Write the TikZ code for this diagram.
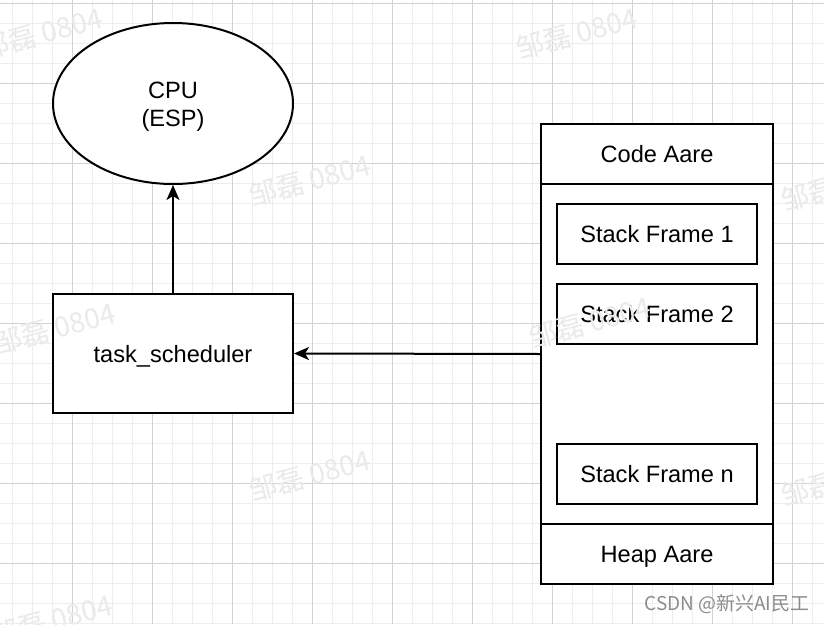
\documentclass[tikz,border=0pt]{standalone}
\usepackage{fontspec}
\setmainfont{Liberation Sans}
\newfontfamily\cjk{Noto Sans CJK SC}
\usetikzlibrary{arrows.meta,shapes.geometric}
\definecolor{gridminor}{HTML}{EEEEEE}
\definecolor{gridmajor}{HTML}{D2D2D2}
\definecolor{wmcol}{HTML}{EAEAEA}
\definecolor{csdn}{HTML}{8C8C8C}
\tikzset{
  boxst/.style={draw=black, line width=2pt, fill=white, inner sep=0pt, font=\fontsize{23.6}{28}\selectfont},
  plainbox/.style={boxst, rectangle, text height=17pt, text depth=0pt},
  ellst/.style={boxst, ellipse},
  lbl/.style={inner sep=0pt, font=\fontsize{23.6}{28}\selectfont, align=center},
  arr/.style={line width=2pt, -{Stealth[length=15pt,width=13pt,inset=4pt]}},
  wmark/.style={text=wmcol, font=\cjk\fontsize{28}{32}\selectfont, rotate=15, inner sep=0pt},
}
\begin{document}
\begin{tikzpicture}[x=1pt,y=-1pt]
\useasboundingbox (0,0) rectangle (824,624);
\fill[white] (0,0) rectangle (824,624);
% grid
\foreach \x in {12.7,32.7,...,822.7} \draw[gridminor, line width=1pt] (\x,0) -- (\x,624);
\foreach \y in {3.3,23.3,...,623.3} \draw[gridminor, line width=1pt] (0,\y) -- (824,\y);
\foreach \x in {72.7,152.7,...,822.7} \draw[gridmajor, line width=1pt] (\x,0) -- (\x,624);
\foreach \y in {3.3,83.3,...,623.3} \draw[gridmajor, line width=1pt] (0,\y) -- (824,\y);

% nodes
\node[ellst, minimum width=240pt, minimum height=161pt] (cpu) at (173,103.5) {};
\node[lbl] (cpulbl) at (173,106.5) {CPU\\(ESP)};
\node[plainbox, minimum width=240pt, minimum height=119pt] (ts) at (173,353.5) {task\_scheduler};

\node[plainbox, minimum width=232pt, minimum height=460pt] (mem) at (657,354) {};
\node[plainbox, minimum width=232pt, minimum height=60pt] (code) at (657,154) {Code Aare};
\node[plainbox, minimum width=232pt, minimum height=60pt] (heap) at (657,554) {Heap Aare};
\node[plainbox, minimum width=200pt, minimum height=60pt] (sf1) at (657,234) {Stack Frame 1};
\node[plainbox, minimum width=200pt, minimum height=60pt] (sf2) at (657,314) {Stack Frame 2};
\node[plainbox, minimum width=200pt, minimum height=60pt] (sfn) at (657,474) {Stack Frame n};

% connectors
\draw[arr] (ts.north) -- (cpu.south);
\draw[arr] (mem.west) -- (ts.east);

% watermarks
\node[wmark] (w1) at (42,33) {邹磊 0804};
\node[wmark] (w2) at (577,33) {邹磊 0804};
\node[wmark] (w3) at (310,180) {邹磊 0804};
\node[wmark] (w4) at (842,185) {邹磊 0804};
\node[wmark] (w5) at (55,328) {邹磊 0804};
\node[wmark] (w6) at (590,322) {邹磊 0804};
\node[wmark] (w7) at (310,475) {邹磊 0804};
\node[wmark] (w8) at (842,480) {邹磊 0804};
\node[wmark] (w9) at (52,620) {邹磊 0804};

\node[text=csdn, font=\cjk\fontsize{19}{22}\selectfont, inner sep=0pt] (csdnlbl) at (727,604) {CSDN @新兴AI民工};
\end{tikzpicture}
\end{document}
